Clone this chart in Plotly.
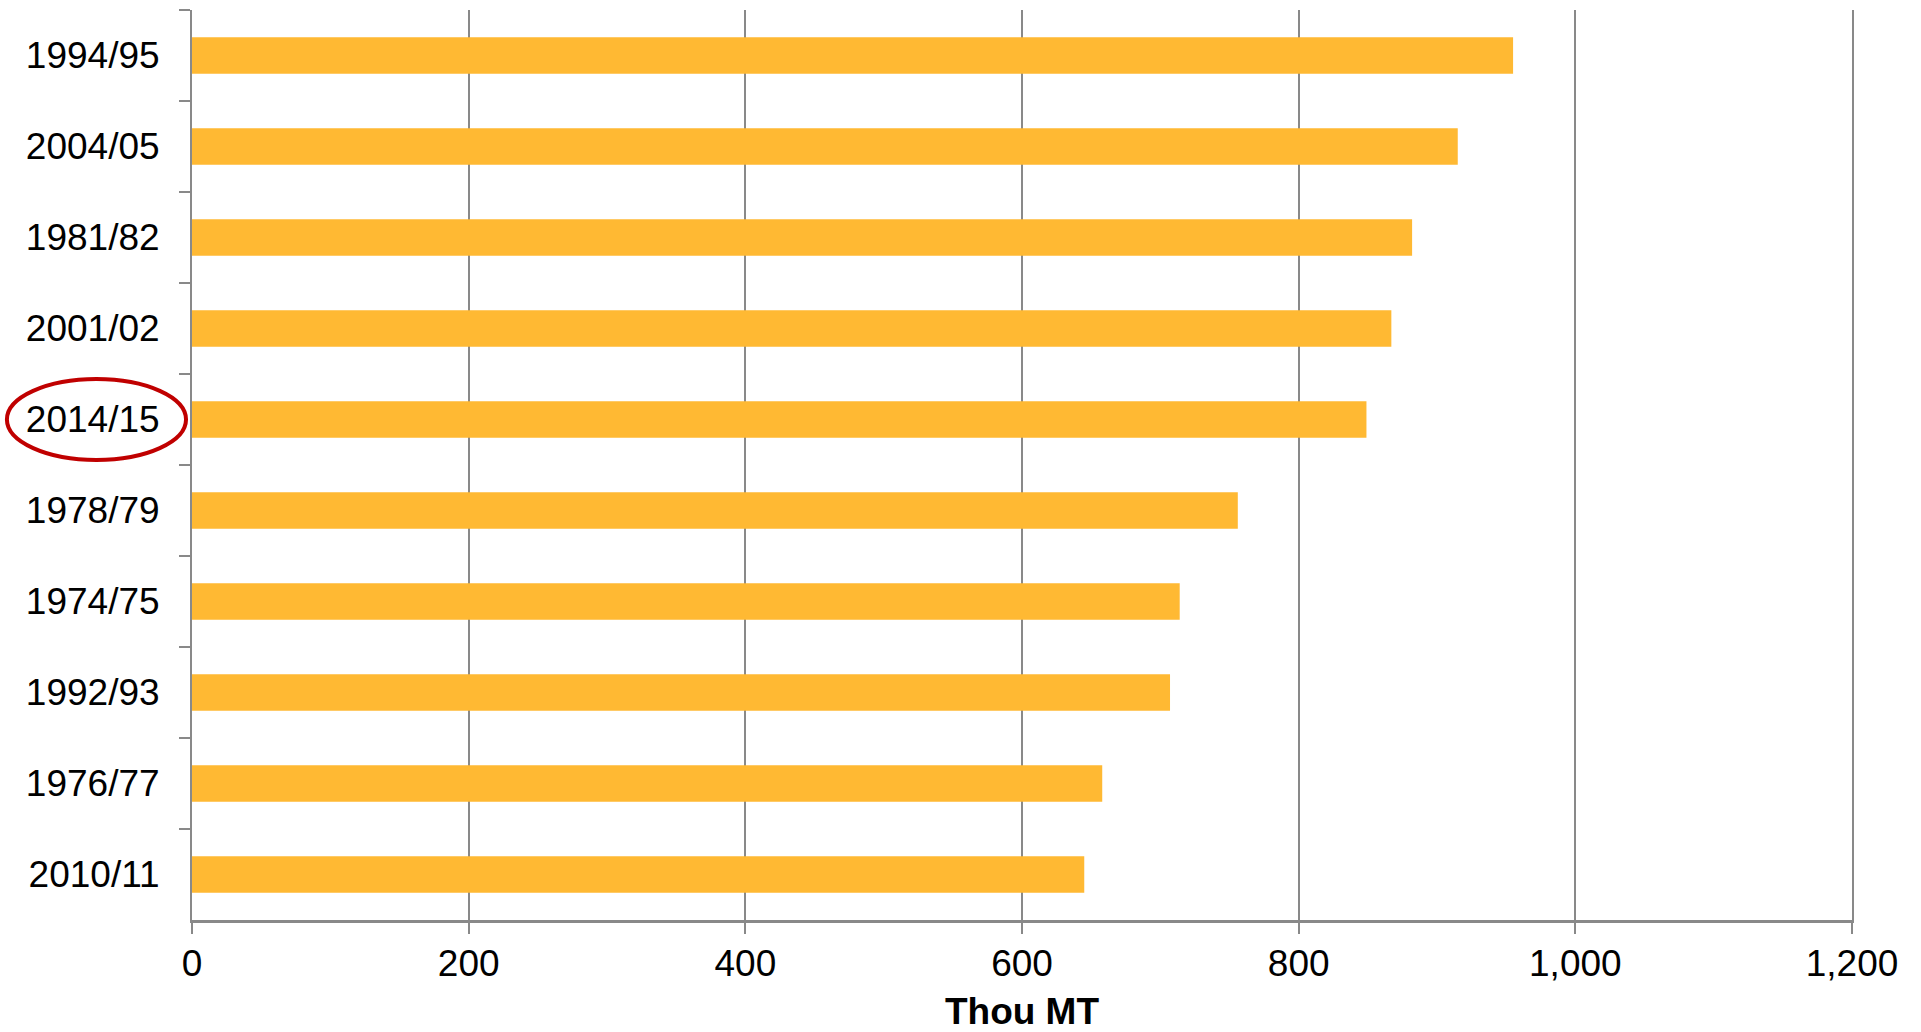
import plotly.graph_objects as go

# Marketing years, ranked from largest to smallest
years = ["1994/95", "2004/05", "1981/82", "2001/02", "2014/15",
         "1978/79", "1974/75", "1992/93", "1976/77", "2010/11"]
volumes = [955, 915, 882, 867, 849, 756, 714, 707, 658, 645]

x_ticks = [0, 200, 400, 600, 800, 1000, 1200]
x_tick_text = ["0", "200", "400", "600", "800", "1,000", "1,200"]

highlight_year = "2014/15"

BAR_COLOR = "#FFB933"
AXIS_COLOR = "#898989"
FONT = "Liberation Sans, Arial, sans-serif"

fig = go.Figure(
    go.Bar(
        x=volumes,
        y=years,
        orientation="h",
        marker=dict(color=BAR_COLOR, line=dict(width=0)),
        width=0.4,
    )
)

fig.update_layout(
    width=1921,
    height=1032,
    margin=dict(l=192, r=69, t=10, b=112),
    paper_bgcolor="white",
    plot_bgcolor="white",
    showlegend=False,
    font=dict(family=FONT, size=37, color="black"),
)

fig.update_xaxes(
    range=[0, 1200],
    tickvals=x_ticks,
    ticktext=x_tick_text,
    automargin=False,
    showgrid=True,
    gridcolor=AXIS_COLOR,
    gridwidth=2,
    zeroline=False,
    showline=True,
    linecolor=AXIS_COLOR,
    linewidth=3,
    ticks="outside",
    ticklen=11,
    tickwidth=2,
    tickcolor=AXIS_COLOR,
    tickfont=dict(size=37, family=FONT, color="black"),
    ticklabelstandoff=-2,
    title=dict(
        text="<b>Thou MT</b>",
        font=dict(size=37, family=FONT, color="black"),
        standoff=24,
    ),
)

fig.update_yaxes(
    categoryorder="array",
    categoryarray=years,
    autorange="reversed",
    automargin=False,
    showgrid=False,
    zeroline=False,
    showline=True,
    mirror=True,
    linecolor=AXIS_COLOR,
    linewidth=2,
    ticks="outside",
    tickson="boundaries",
    ticklen=11,
    tickwidth=2,
    tickcolor=AXIS_COLOR,
    tickfont=dict(size=37, family=FONT, color="black"),
    ticklabelstandoff=23,
)

# Red ring around the highlighted year's label
n = len(years)
idx = years.index(highlight_year)
y_center = 1 - (idx + 0.5) / n
half_h = 0.445 / n
fig.add_shape(
    type="circle",
    xref="paper",
    yref="paper",
    x0=-0.1115,
    x1=-0.0036,
    y0=y_center - half_h,
    y1=y_center + half_h,
    line=dict(color="#C00000", width=4),
    fillcolor="rgba(0,0,0,0)",
    layer="above",
)

fig.write_html("out.html")
